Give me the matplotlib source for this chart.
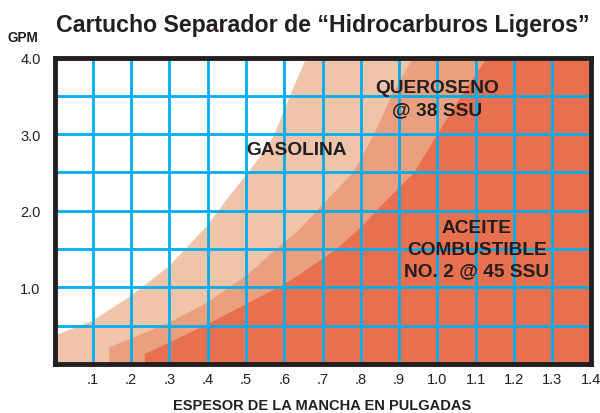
import matplotlib
matplotlib.use("Agg")
import matplotlib.pyplot as plt

plt.rcParams['font.family'] = ['Liberation Sans', 'DejaVu Sans']

# ---- data ----
title = "Cartucho Separador de “Hidrocarburos Ligeros”"
x_label = "ESPESOR DE LA MANCHA EN PULGADAS"
y_unit = "GPM"

x_ticks = [0.1, 0.2, 0.3, 0.4, 0.5, 0.6, 0.7, 0.8, 0.9, 1.0, 1.1, 1.2, 1.3, 1.4]
x_ticklabels = [".1", ".2", ".3", ".4", ".5", ".6", ".7", ".8", ".9",
                "1.0", "1.1", "1.2", "1.3", "1.4"]
y_ticks = [1.0, 2.0, 3.0, 4.0]
y_ticklabels = ["1.0", "2.0", "3.0", "4.0"]
y_minor = [0.5, 1.5, 2.5, 3.5]

# boundary of the Gasolina zone (white / light)
gas_x = [0.0, 0.1, 0.2, 0.3, 0.4, 0.45, 0.506, 0.554, 0.575, 0.615, 0.658]
gas_y = [0.37, 0.565, 0.89, 1.28, 1.81, 2.15, 2.5, 2.82, 3.0, 3.5, 4.0]

# boundary of the Queroseno zone (light / medium)
ker_x = [0.143, 0.2, 0.3, 0.4, 0.5, 0.6, 0.641, 0.685, 0.78, 0.835, 0.88, 0.937]
ker_y = [0.22, 0.33, 0.54, 0.805, 1.15, 1.59, 1.76, 2.0, 2.5, 3.0, 3.5, 4.0]

# boundary of the Aceite combustible zone (medium / dark)
fuel_x = [0.236, 0.3, 0.4, 0.5, 0.6, 0.641, 0.737, 0.81, 0.84, 0.94, 1.0, 1.063, 1.13]
fuel_y = [0.13, 0.28, 0.52, 0.78, 1.04, 1.17, 1.5, 1.83, 2.0, 2.5, 3.0, 3.5, 4.0]

zone_labels = [
    ("GASOLINA", 0.632, 2.742),
    ("QUEROSENO", 1.0, 3.547),
    ("@ 38 SSU", 1.0, 3.264),
    ("ACEITE", 1.103, 1.719),
    ("COMBUSTIBLE", 1.103, 1.436),
    ("NO. 2 @ 45 SSU", 1.103, 1.162),
]

# ---- styles ----
XMAX, YMAX = 1.4, 4.0
c_light = "#EFC4A9"
c_med = "#EAA07F"
c_dark = "#E8704E"
c_grid = "#00AEEF"
c_ink = "#231F20"

fig = plt.figure(figsize=(6, 4.14), dpi=100)
ax = fig.add_axes([54.5 / 600, 49 / 414, 536 / 600, 306.5 / 414])
ax.set_xlim(0, XMAX)
ax.set_ylim(0, YMAX)

for bx, by, col in [(gas_x, gas_y, c_light), (ker_x, ker_y, c_med), (fuel_x, fuel_y, c_dark)]:
    px = list(bx) + [XMAX, XMAX, bx[0]]
    py = list(by) + [YMAX, 0, 0]
    ax.fill(px, py, color=col, lw=0, zorder=1)

ax.set_xticks(x_ticks)
ax.set_xticklabels(x_ticklabels)
ax.set_yticks(y_ticks)
ax.set_yticklabels(y_ticklabels)
ax.set_yticks(y_minor, minor=True)
ax.set_axisbelow(False)
ax.grid(True, which='both', color=c_grid, lw=2.0, zorder=3)
ax.tick_params(which='both', length=0)
ax.tick_params(axis='x', pad=6.0, labelsize=10.5, labelcolor=c_ink)
ax.tick_params(axis='y', pad=10.0, labelsize=10.5, labelcolor=c_ink)

for s in ax.spines.values():
    s.set_linewidth(3.5)
    s.set_color(c_ink)
    s.set_zorder(5)

for txt, tx, ty in zone_labels:
    ax.text(tx, ty, txt, ha='center', va='baseline', fontsize=13.8,
            weight='bold', color=c_ink, zorder=6)

fig.text(322.5 / 600, (414 - 31.7) / 414, title, ha='center', va='baseline',
         fontsize=16.7, weight='bold', color=c_ink)
fig.text(7 / 600, (414 - 41.7) / 414, y_unit, ha='left', va='baseline',
         fontsize=9.8, weight='bold', color=c_ink)
fig.text(322.5 / 600, (414 - 410) / 414, x_label, ha='center', va='baseline',
         fontsize=10.5, weight='bold', color=c_ink)

fig.savefig("out.png", dpi=100)
